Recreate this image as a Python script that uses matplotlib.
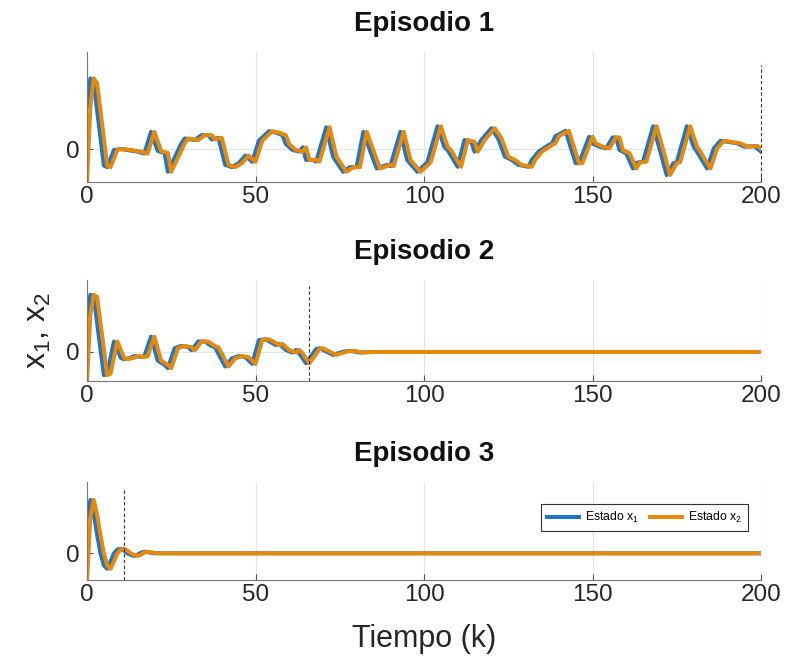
import matplotlib
matplotlib.use("Agg")
import matplotlib.pyplot as plt

plt.rcParams['font.family'] = ['Liberation Sans', 'DejaVu Sans']
plt.rcParams['mathtext.fontset'] = 'custom'
plt.rcParams['mathtext.rm'] = 'Liberation Sans'
plt.rcParams['mathtext.it'] = 'Liberation Sans'

# ---------------- data (k, value) knots ----------------
titles = ["Episodio 1", "Episodio 2", "Episodio 3"]
x_ticks = [0, 50, 100, 150, 200]
y_ticks = [0]
y_limits = [(-1.0, 2.94), (-1.0, 2.48), (-1.0, 2.67)]
episode_end = [200, 66, 11]
end_marker_top = [2.55, 2.28, 2.44]
legend_labels = [r"Estado x$_1$", r"Estado x$_2$"]

ep1_x1 = [(0,1.28),(1,2.14),(2,2.0),(5,-0.5),(6,-0.55),(8,-0.03),(10,0.0),(15,-0.08),(17,-0.14),(19,0.52),
          (21,-0.06),(23,-0.12),(24,-0.69),(28,0.17),(29,0.32),(32,0.27),(34,0.42),(36,0.42),(37,0.29),(39,0.34),
          (41,-0.48),(43,-0.55),(45,-0.43),(47,-0.2),(49,-0.39),(51,0.25),(54,0.54),(56,0.5),(58,0.42),(59,0.15),
          (61,-0.03),(63,-0.08),(64,0.05),(65,-0.33),(67,-0.33),(68,-0.38),(71,0.66),(73,-0.23),(76,-0.69),(78,-0.55),
          (80,-0.55),(82,0.52),(85,-0.33),(86,-0.59),(89,-0.48),(90,-0.52),(93,0.52),(95,-0.33),(98,-0.69),(100,-0.5),
          (101,-0.4),(104,0.69),(106,0.07),(107,-0.03),(110,-0.54),(112,0.27),(114,0.22),(115,-0.08),(117,0.27),(120,0.63),
          (122,0.32),(124,-0.23),(126,-0.33),(128,-0.48),(130,-0.52),(131,-0.54),(132,-0.33),(134,-0.08),(137,0.12),(138,0.17),
          (139,0.39),(142,0.55),(145,-0.43),(146,-0.43),(149,0.37),(150,0.17),(152,0.07),(154,0.02),(156,0.35),(157,0.35),
          (158,-0.03),(160,-0.13),(162,-0.59),(163,-0.42),(165,-0.38),(168,0.69),(170,-0.03),(172,-0.79),(174,-0.43),(175,-0.40),
          (178,0.69),(180,0.07),(181,-0.08),(184,-0.59),(186,0.02),(188,0.25),(190,0.22),(193,0.17),(195,0.07),(198,0.09),
          (200,-0.08)]
ep1_x2 = [(0,-1.0),(1,1.28),(2,2.14),(3,2.0),(6,-0.5),(7,-0.55),(9,-0.03),(11,0.0),(16,-0.08),(18,-0.14),(20,0.52),
          (22,-0.06),(24,-0.12),(25,-0.69),(29,0.17),(30,0.32),(33,0.27),(35,0.42),(37,0.42),(38,0.29),(40,0.34),
          (42,-0.48),(44,-0.55),(46,-0.43),(48,-0.2),(50,-0.39),(52,0.25),(55,0.54),(57,0.5),(59,0.42),(60,0.15),
          (62,-0.03),(64,-0.08),(65,0.05),(66,-0.33),(68,-0.33),(69,-0.38),(72,0.66),(74,-0.23),(77,-0.69),(79,-0.55),
          (81,-0.55),(83,0.52),(86,-0.33),(87,-0.59),(90,-0.48),(91,-0.52),(94,0.52),(96,-0.33),(99,-0.69),(101,-0.5),
          (102,-0.4),(105,0.69),(107,0.07),(108,-0.03),(111,-0.54),(113,0.27),(115,0.22),(116,-0.08),(118,0.27),(121,0.63),
          (123,0.32),(125,-0.23),(127,-0.33),(129,-0.48),(131,-0.52),(132,-0.54),(133,-0.33),(135,-0.08),(138,0.12),(139,0.17),
          (140,0.39),(143,0.55),(146,-0.43),(147,-0.43),(150,0.37),(151,0.17),(153,0.07),(155,0.02),(157,0.35),(158,0.35),
          (159,-0.03),(161,-0.13),(163,-0.59),(164,-0.42),(166,-0.38),(169,0.69),(171,-0.03),(173,-0.79),(175,-0.43),(176,-0.40),
          (179,0.69),(181,0.07),(182,-0.08),(185,-0.59),(187,0.02),(189,0.25),(191,0.22),(194,0.17),(196,0.07),(199,0.09),
          (200,0.0)]

ep2_x1 = [(0,1.28),(1,1.97),(2,1.9),(5,-0.8),(6,-0.75),(8,0.36),(10,-0.2),(11,-0.25),(13,-0.2),(14,-0.14),
          (16,-0.17),(17,-0.15),(19,0.53),(21,-0.3),(23,-0.44),(24,-0.56),(26,0.13),(28,0.21),(30,0.17),(31,0.06),
          (33,0.36),(35,0.36),(37,0.2),(38,0.16),(41,-0.5),(43,-0.22),(45,-0.14),(47,-0.18),(49,-0.41),(51,0.41),
          (53,0.44),(56,0.24),(57,0.28),(59,0.07),(61,-0.02),(62,0.07),(63,-0.05),(65,-0.39),(68,0.10),(69,0.13),
          (73,-0.1),(76,0.01),(78,0.04),(81,-0.02),(84,0.0),(200,0.0)]
ep2_x2 = [(0,-1.0),(1,1.28),(2,1.97),(3,1.9),(6,-0.8),(7,-0.75),(9,0.36),(11,-0.2),(12,-0.25),(14,-0.2),(15,-0.14),
          (17,-0.17),(18,-0.15),(20,0.53),(22,-0.3),(24,-0.44),(25,-0.56),(27,0.13),(29,0.21),(31,0.17),(32,0.06),
          (34,0.36),(36,0.36),(38,0.2),(39,0.16),(42,-0.5),(44,-0.22),(46,-0.14),(48,-0.18),(50,-0.41),(52,0.41),
          (54,0.44),(57,0.24),(58,0.28),(60,0.07),(62,-0.02),(63,0.07),(64,-0.05),(66,-0.39),(69,0.10),(70,0.13),
          (74,-0.1),(77,0.01),(79,0.04),(82,-0.02),(85,0.0),(200,0.0)]

ep3_x1 = [(0,1.35),(1,2.0),(2,1.45),(3,0.7),(4,0.0),(5,-0.45),(6,-0.58),(7,-0.3),(8,0.0),(9,0.14),(10,0.17),
          (11,0.1),(12,0.0),(13,-0.06),(14,-0.1),(15,-0.05),(16,0.02),(17,0.06),(18,0.04),(20,0.0),(200,0.0)]
ep3_x2 = [(0,-1.0),(1,1.35),(2,2.0),(3,1.45),(4,0.7),(5,0.0),(6,-0.45),(7,-0.58),(8,-0.3),(9,0.0),(10,0.14),
          (11,0.17),(12,0.1),(13,0.0),(14,-0.06),(15,-0.1),(16,-0.05),(17,0.02),(18,0.06),(19,0.04),(21,0.0),(200,0.0)]

episodes = [(ep1_x1, ep1_x2), (ep2_x1, ep2_x2), (ep3_x1, ep3_x2)]

# ---------------- styling ----------------
C1 = '#1f74cc'
C2 = '#e68a0a'
W, H = 786, 660
# axes boxes in pixels: (left, top, right, bottom)
boxes = [(87, 52, 761, 182), (87, 280, 761, 381), (87, 482, 761, 580)]

fig = plt.figure(figsize=(W/100, H/100), dpi=100)
axes = []
for i, (l, t, r, b) in enumerate(boxes):
    ax = fig.add_axes([l/W, 1-b/H, (r-l)/W, (b-t)/H])
    axes.append(ax)
    x1, x2 = episodes[i]
    ax.plot([p[0] for p in x1], [p[1] for p in x1], color=C1, lw=2.9, solid_joinstyle='round', label=legend_labels[0])
    ax.plot([p[0] for p in x2], [p[1] for p in x2], color=C2, lw=2.9, solid_joinstyle='round', label=legend_labels[1])
    ax.plot([episode_end[i], episode_end[i]], [y_limits[i][0], end_marker_top[i]], color='#333333',
            lw=0.8, linestyle=(0, (3, 2.2)), clip_on=False)
    ax.set_xlim(0, 200)
    ax.set_ylim(*y_limits[i])
    ax.set_xticks(x_ticks)
    ax.set_yticks(y_ticks)
    ax.grid(True, color='#e3e3e3', lw=0.8)
    ax.set_axisbelow(True)
    for s in ['top', 'right']:
        ax.spines[s].set_visible(False)
    for s in ['left', 'bottom']:
        ax.spines[s].set_color('#777777')
        ax.spines[s].set_linewidth(0.8)
    ax.tick_params(direction='in', length=4, width=0.8, color='#555555', labelsize=17.5,
                   labelcolor='#262626', pad=3)
    ax.tick_params(axis='y', pad=5)
    ax.set_title(titles[i], fontsize=20, fontweight='bold', color='#111111', pad=15)

axes[1].set_ylabel(r"x$_1$, x$_2$", fontsize=23, color='#262626', labelpad=10)
axes[2].set_xlabel("Tiempo (k)", fontsize=22, color='#262626', labelpad=13)

lx = (748 - 87) / (761 - 87)
ly = (580 - 504) / (580 - 482)
leg = axes[2].legend(loc='upper right', bbox_to_anchor=(lx, ly), borderaxespad=0, ncol=2, fontsize=8.8,
                     frameon=True, fancybox=False, edgecolor='#333333', framealpha=1,
                     handlelength=2.6, columnspacing=0.9, handletextpad=0.5, borderpad=0.5)
leg.get_frame().set_linewidth(0.8)

fig.savefig("out.png", dpi=100)
